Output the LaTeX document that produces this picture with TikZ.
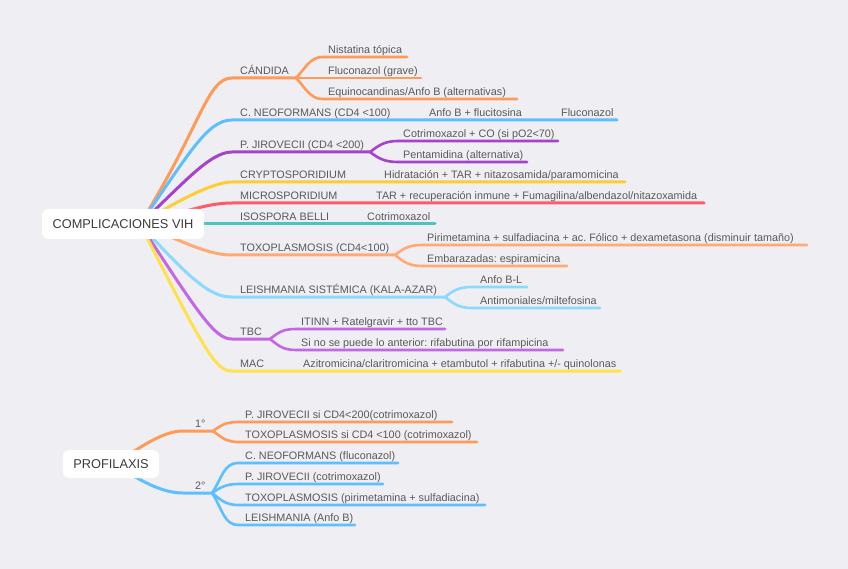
\documentclass[tikz,border=0pt]{standalone}
\usepackage{fontspec}
\setmainfont{Liberation Sans}
\usetikzlibrary{calc}
\frenchspacing
\definecolor{bgc}{HTML}{EEEEF3}
\definecolor{txtc}{HTML}{5A5A5A}
\definecolor{roottxt}{HTML}{3C3C3C}
\definecolor{cOr}{HTML}{FF9B56}
\definecolor{cBl}{HTML}{5EBFFF}
\definecolor{cPu}{HTML}{A743C9}
\definecolor{cYe}{HTML}{FFCC33}
\definecolor{cRe}{HTML}{FF5A6A}
\definecolor{cTe}{HTML}{4CC3C3}
\definecolor{cOrL}{HTML}{FFAA74}
\definecolor{cBlL}{HTML}{8AD9FF}
\definecolor{cPuL}{HTML}{C467E6}
\definecolor{cYeL}{HTML}{FFE14A}
\tikzset{
  lbl/.style={anchor=base west, inner sep=0pt, text=txtc, font=\fontsize{10.8}{12}\selectfont\frenchspacing},
  br/.style={line width=3pt, line cap=round},
  sub/.style={line width=2.6pt, line cap=round},
  rootbox/.style={fill=white, rounded corners=6pt, inner sep=0pt, text=roottxt, font=\fontsize{12.8}{14}\selectfont},
}
\begin{document}
\begin{tikzpicture}[x=1pt,y=-1pt]
\useasboundingbox (0,0) rectangle (848,569);
\fill[bgc] (0,0) rectangle (848,569);

% ---------- hub and coordinates ----------
\coordinate (hub) at (140,224);
\coordinate (b1) at (232,78);   \coordinate (f1) at (296,78);
\coordinate (b2) at (232,120);  \coordinate (b2e) at (617,120);
\coordinate (b3) at (232,152);  \coordinate (f3) at (370,152);
\coordinate (b4) at (232,182);  \coordinate (b4e) at (625,182);
\coordinate (b5) at (232,203);  \coordinate (b5e) at (704,203);
\coordinate (b6e) at (435,224);
\coordinate (b7) at (232,255);  \coordinate (f7) at (395,255);
\coordinate (b8) at (232,297);  \coordinate (f8) at (445,297);
\coordinate (b9) at (232,339);  \coordinate (f9) at (270,339);
\coordinate (b10) at (232,371); \coordinate (b10e) at (620,371);

\coordinate (c11) at (322,57);  \coordinate (c11e) at (407,57);
\coordinate (c12e) at (421,78);
\coordinate (c13) at (322,99);  \coordinate (c13e) at (517,99);
\coordinate (c31) at (398,141); \coordinate (c31e) at (558,141);
\coordinate (c32) at (398,162); \coordinate (c32e) at (527,162);
\coordinate (c71) at (422,245); \coordinate (c71e) at (807,245);
\coordinate (c72) at (422,266); \coordinate (c72e) at (567,266);
\coordinate (c81) at (472,287); \coordinate (c81e) at (527,287);
\coordinate (c82) at (472,308); \coordinate (c82e) at (600,308);
\coordinate (c91) at (296,329); \coordinate (c91e) at (445,329);
\coordinate (c92) at (296,350); \coordinate (c92e) at (563,350);

% ---------- main branches ----------
\draw[br,cOr] (hub) .. controls (201,126.5) and (207,78) .. (b1) -- (f1);
\draw[br,cBl] (hub) .. controls (188.8,154.4) and (207,120) .. (b2) -- (b2e);
\draw[br,cPu] (hub) .. controls (184,183) and (210,152) .. (b3) -- (f3);
\draw[br,cYe] (hub) .. controls (174,203) and (212,182) .. (b4) -- (b4e);
\draw[br,cRe] (hub) .. controls (183.5,212.4) and (207,203) .. (b5) -- (b5e);
\draw[br,cTe] (hub) -- (b6e);
\draw[br,cOrL] (hub) .. controls (181.7,240.9) and (207,255) .. (b7) -- (f7);
\draw[br,cBlL] (hub) .. controls (193.5,283.5) and (212,297) .. (b8) -- (f8);
\draw[br,cPuL] (hub) .. controls (200,316) and (215,339) .. (b9) -- (f9);
\draw[br,cYeL] (hub) .. controls (203.6,348.7) and (215,371) .. (b10) -- (b10e);

% ---------- sub branches ----------
\draw[sub,cOr] (f1) .. controls (304,70) and (310,57) .. (c11) -- (c11e);
\draw[sub,cOr] (f1) -- (c12e);
\draw[sub,cOr] (f1) .. controls (304,86) and (310,99) .. (c13) -- (c13e);
\draw[sub,cPu] (f3) .. controls (378,146) and (384,141) .. (c31) -- (c31e);
\draw[sub,cPu] (f3) .. controls (378,158) and (384,162) .. (c32) -- (c32e);
\draw[sub,cOrL] (f7) .. controls (403,249) and (408,245) .. (c71) -- (c71e);
\draw[sub,cOrL] (f7) .. controls (403,261) and (408,266) .. (c72) -- (c72e);
\draw[sub,cBlL] (f8) .. controls (453,291) and (458,287) .. (c81) -- (c81e);
\draw[sub,cBlL] (f8) .. controls (453,303) and (458,308) .. (c82) -- (c82e);
\draw[sub,cPuL] (f9) .. controls (278,333) and (282,329) .. (c91) -- (c91e);
\draw[sub,cPuL] (f9) .. controls (278,345) and (282,350) .. (c92) -- (c92e);

% ---------- root ----------
\node[rootbox, minimum width=162pt, minimum height=30pt] (root1) at (123,224) {COMPLICACIONES VIH};

% ---------- labels ----------
\node[lbl] (t1) at (240,74.5) {CÁNDIDA};
\node[lbl] (t11) at (328,53.5) {Nistatina tópica};
\node[lbl] (t12) at (328,74.5) {Fluconazol (grave)};
\node[lbl] (t13) at (328,95.5) {Equinocandinas/Anfo B (alternativas)};
\node[lbl] (t2) at (240,116.5) {C. NEOFORMANS (CD4 <100)};
\node[lbl] (t21) at (429,116.5) {Anfo B + flucitosina};
\node[lbl] (t22) at (561,116.5) {Fluconazol};
\node[lbl] (t3) at (240,148.5) {P. JIROVECII (CD4 <200)};
\node[lbl] (t31) at (403,137.5) {Cotrimoxazol + CO (si pO2<70)};
\node[lbl] (t32) at (403,158.5) {Pentamidina (alternativa)};
\node[lbl] (t4) at (240,178.5) {CRYPTOSPORIDIUM};
\node[lbl] (t41) at (384,178.5) {Hidratación + TAR + nitazosamida/paramomicina};
\node[lbl] (t5) at (240,199.5) {MICROSPORIDIUM};
\node[lbl] (t51) at (376,199.5) {TAR + recuperación inmune + Fumagilina/albendazol/nitazoxamida};
\node[lbl] (t6) at (240,220.5) {ISOSPORA BELLI};
\node[lbl] (t61) at (367,220.5) {Cotrimoxazol};
\node[lbl] (t7) at (240,251.5) {TOXOPLASMOSIS (CD4<100)};
\node[lbl] (t71) at (427,241.5) {Pirimetamina + sulfadiacina + ac. Fólico + dexametasona (disminuir tamaño)};
\node[lbl] (t72) at (427,262.5) {Embarazadas: espiramicina};
\node[lbl] (t8) at (240,293.5) {LEISHMANIA SISTÉMICA (KALA-AZAR)};
\node[lbl] (t81) at (480,283.5) {Anfo B-L};
\node[lbl] (t82) at (480,304.5) {Antimoniales/miltefosina};
\node[lbl] (t9) at (240,335.5) {TBC};
\node[lbl] (t91) at (301,325.5) {ITINN + Ratelgravir + tto TBC};
\node[lbl] (t92) at (301,346.5) {Si no se puede lo anterior: rifabutina por rifampicina};
\node[lbl] (t10) at (240,367.5) {MAC};
\node[lbl] (t101) at (303,367.5) {Azitromicina/claritromicina + etambutol + rifabutina +/- quinolonas};

% ================= PROFILAXIS =================
\coordinate (hub2) at (115,464);
\coordinate (p1) at (183,431); \coordinate (pf1) at (213,431);
\coordinate (p2) at (183,493); \coordinate (pf2) at (212,493);
\coordinate (p11) at (238,422); \coordinate (p11e) at (452,422);
\coordinate (p12) at (238,442); \coordinate (p12e) at (477,442);
\coordinate (p21) at (238,463); \coordinate (p21e) at (398,463);
\coordinate (p22) at (238,484); \coordinate (p22e) at (383,484);
\coordinate (p23) at (238,505); \coordinate (p23e) at (485,505);
\coordinate (p24) at (238,525); \coordinate (p24e) at (355,525);

\draw[br,cOr] (hub2) .. controls (144,444) and (165,431) .. (p1) -- (pf1);
\draw[br,cBl] (hub2) .. controls (144,484) and (165,493) .. (p2) -- (pf2);
\draw[sub,cOr] (pf1) .. controls (220,426) and (225,422) .. (p11) -- (p11e);
\draw[sub,cOr] (pf1) .. controls (220,436) and (225,442) .. (p12) -- (p12e);
\draw[sub,cBl] (pf2) .. controls (222,478) and (224,463) .. (p21) -- (p21e);
\draw[sub,cBl] (pf2) .. controls (220,488) and (225,484) .. (p22) -- (p22e);
\draw[sub,cBl] (pf2) .. controls (220,499) and (225,505) .. (p23) -- (p23e);
\draw[sub,cBl] (pf2) .. controls (222,508) and (224,525) .. (p24) -- (p24e);

\node[rootbox, minimum width=96pt, minimum height=28pt] (root2) at (111,464) {PROFILAXIS};

\node[lbl] (q1) at (195,427.5) {1°};
\node[lbl] (q2) at (195,489.5) {2°};
\node[lbl] (q11) at (245,418.5) {P. JIROVECII si CD4<200(cotrimoxazol)};
\node[lbl] (q12) at (245,438.5) {TOXOPLASMOSIS si CD4 <100 (cotrimoxazol)};
\node[lbl] (q21) at (245,459.5) {C. NEOFORMANS (fluconazol)};
\node[lbl] (q22) at (245,480.5) {P. JIROVECII (cotrimoxazol)};
\node[lbl] (q23) at (245,501.5) {TOXOPLASMOSIS (pirimetamina + sulfadiacina)};
\node[lbl] (q24) at (245,521.5) {LEISHMANIA (Anfo B)};
\end{tikzpicture}
\end{document}
